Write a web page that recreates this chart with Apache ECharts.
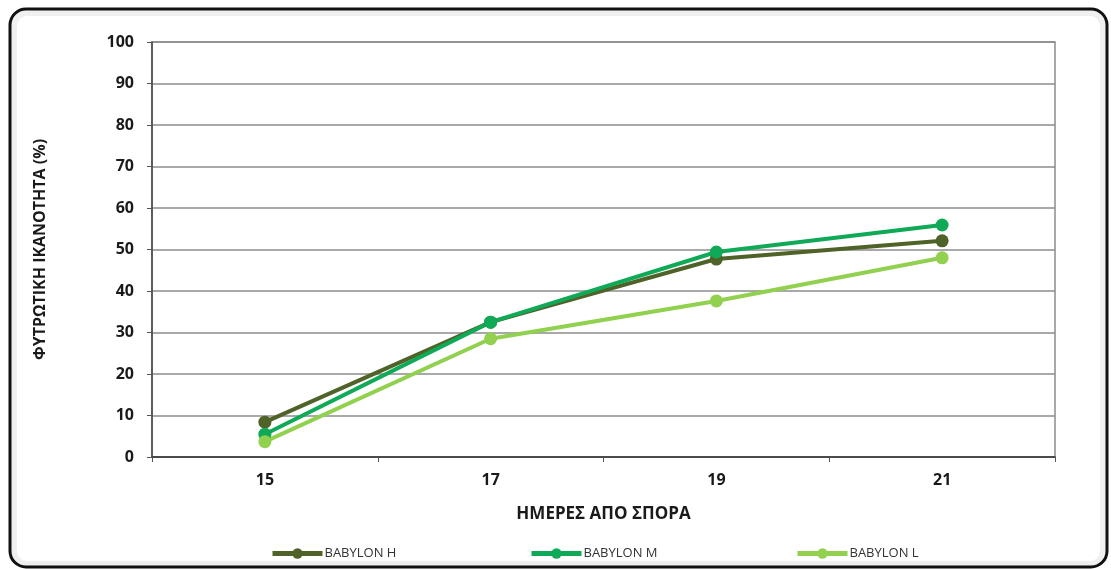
<!DOCTYPE html>
<html>
<head>
<meta charset="utf-8">
<script src="https://cdn.jsdelivr.net/npm/echarts@6/dist/echarts.min.js"></script>
<style>html,body{margin:0;padding:0;background:#fff;}#c{width:1111px;height:569px;}</style>
</head>
<body>
<div id="c"></div>
<script>
var categories = ['15', '17', '19', '21'];
var yTicks = [0, 10, 20, 30, 40, 50, 60, 70, 80, 90, 100];
var babylonH = [8.4, 32.5, 47.7, 52.1];
var babylonM = [5.5, 32.5, 49.4, 55.9];
var babylonL = [3.7, 28.5, 37.6, 48.0];
var seriesNames = ['BABYLON H', 'BABYLON M', 'BABYLON L'];
var colors = ['#4f6228', '#10a957', '#92d050'];

var chart = echarts.init(document.getElementById('c'), null, {renderer: 'canvas'});
var font = '"Open Sans", sans-serif';
function mk(name, data, color) {
  return {
    name: name, type: 'line', data: data,
    symbol: 'circle', symbolSize: 13,
    lineStyle: {width: 4, color: color},
    itemStyle: {color: color},
    emphasis: {disabled: true}
  };
}
function lg(name, left) {
  return {
    data: [name], left: left, top: 542,
    itemWidth: 50, itemHeight: 13, itemGap: 0,
    lineStyle: {width: 5},
    textStyle: {fontFamily: font, fontSize: 13, color: '#333', padding: [0, 0, 0, -3]}
  };
}
chart.setOption({
  animation: false,
  backgroundColor: '#fff',
  graphic: [
    {type: 'rect', shape: {x: 14, y: 13, width: 1089, height: 551, r: 13}, style: {fill: 'none', stroke: 'rgba(0,0,0,0.06)', lineWidth: 6}, z: -1},
    {type: 'rect', shape: {x: 10, y: 9, width: 1097, height: 558, r: 16}, style: {fill: 'none', stroke: '#111', lineWidth: 3}, z: 0}
  ],
  grid: {left: 152, right: 56, top: 42, bottom: 112, show: true, borderColor: '#8c8c8c', borderWidth: 1.5},
  legend: [lg(seriesNames[0], 265), lg(seriesNames[1], 524), lg(seriesNames[2], 790)],
  xAxis: {
    type: 'category', data: categories, boundaryGap: true,
    name: 'ΗΜΕΡΕΣ ΑΠΟ ΣΠΟΡΑ', nameLocation: 'middle', nameGap: 49,
    nameTextStyle: {fontFamily: font, fontWeight: 'bold', fontSize: 17, color: '#1a1a1a'},
    axisLine: {lineStyle: {color: '#333', width: 1.5}},
    axisTick: {show: true, length: 5, lineStyle: {color: '#555'}},
    axisLabel: {fontFamily: font, fontWeight: 'bold', fontSize: 16, color: '#1a1a1a', margin: 15}
  },
  yAxis: {
    type: 'value', min: 0, max: 100, interval: 10,
    name: 'ΦΥΤΡΩΤΙΚΗ ΙΚΑΝΟΤΗΤΑ (%)', nameLocation: 'middle', nameGap: 104,
    nameTextStyle: {fontFamily: font, fontWeight: 'bold', fontSize: 16, color: '#1a1a1a'},
    axisLine: {show: true, lineStyle: {color: '#444', width: 1.5}},
    axisTick: {show: true, length: 5, lineStyle: {color: '#555'}},
    axisLabel: {fontFamily: font, fontWeight: 'bold', fontSize: 16, color: '#1a1a1a', margin: 18,
      formatter: function (v) { return yTicks.indexOf(v) >= 0 ? String(v) : ''; }},
    splitLine: {lineStyle: {color: '#8c8c8c', width: 1.5}}
  },
  series: [mk(seriesNames[0], babylonH, colors[0]), mk(seriesNames[1], babylonM, colors[1]), mk(seriesNames[2], babylonL, colors[2])]
});
</script>
</body>
</html>
